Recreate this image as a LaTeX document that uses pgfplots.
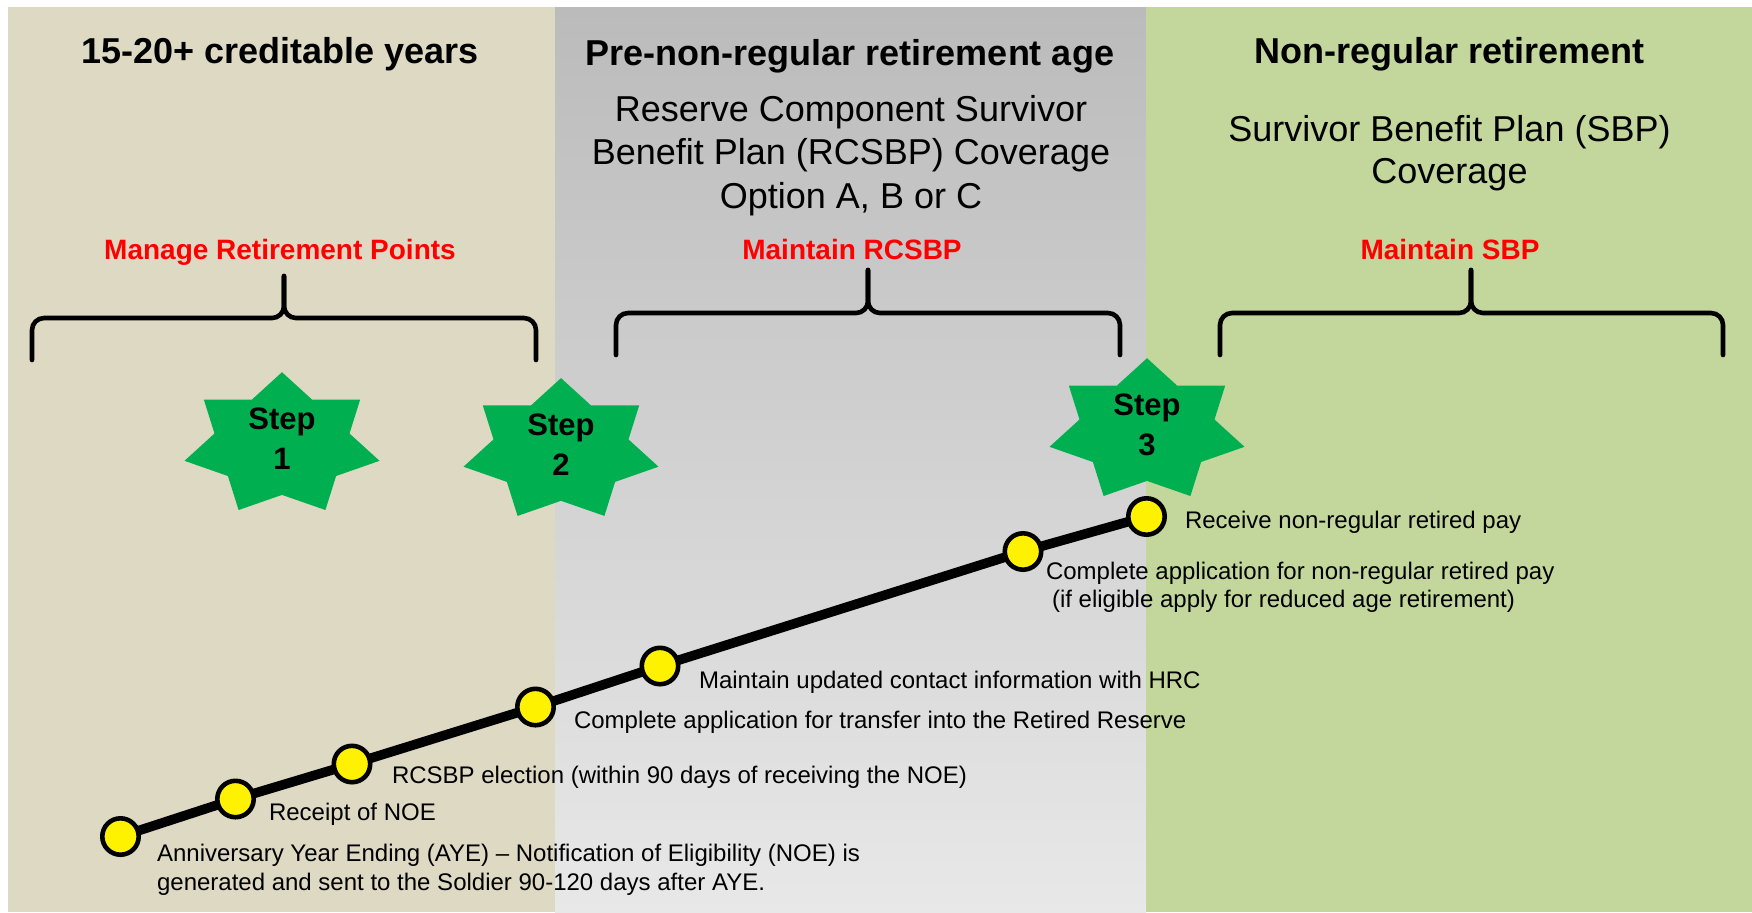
\documentclass[border=0pt]{standalone}
\usepackage{pgfplots}
\usepackage{pgfplotstable}
\pgfplotsset{compat=1.18}
\usepackage{fontspec}
\setmainfont{Liberation Sans}
\definecolor{beige}{HTML}{DDD9C3}
\definecolor{olivebg}{HTML}{C3D69B}
\definecolor{stargreen}{HTML}{00B050}
\definecolor{gtop}{HTML}{BBBBBB}
\definecolor{gbot}{HTML}{E8E8E8}
\newcommand\lbl{\fontsize{12pt}{14.4pt}\selectfont}
\newcommand\ttl{\fontsize{18pt}{21.6pt}\selectfont\bfseries}
\newcommand\sub{\fontsize{18pt}{21.6pt}\selectfont}
\newcommand\red{\fontsize{14pt}{16.8pt}\selectfont\bfseries\color{red}}
\newcommand\stf{\fontsize{15.5pt}{18pt}\selectfont\bfseries}

% 7-point star outline offsets (px), x right, y down
\pgfplotstableread{
dx dy
0 -72.5
-30.0 -45.2
-78.2 -45.2
-67.5 -11.2
-97.5 16.1
-54.1 31.3
-43.4 65.3
0 50.2
43.4 65.3
54.1 31.3
97.5 16.1
67.5 -11.2
78.2 -45.2
30.0 -45.2
}\staroff

% timeline milestones (px)
\pgfplotstableread{
x y
120.5 836.5
235.5 799
352 764
535.5 707
660 666
1023 551.5
1146.5 516.5
}\milestones

\begin{document}
\begin{tikzpicture}
\begin{axis}[
  width=876pt, height=456pt, scale only axis,
  xmin=0, xmax=1752, ymin=0, ymax=912,
  y dir=reverse, hide axis, clip=false,
  every node/.style={inner sep=0pt, outer sep=0pt},
]
\fill[white] (axis cs:0,0) rectangle (axis cs:1752,912);
\fill[beige] (axis cs:8,7) rectangle (axis cs:555,912);
\shade[top color=gtop, bottom color=gbot] (axis cs:555,7) rectangle (axis cs:1146,912);
\fill[olivebg] (axis cs:1146,7) rectangle (axis cs:1752,912);

% titles
\node[anchor=base, font=\ttl] at (axis cs:280,63) {15-20+ creditable years};
\node[anchor=base, font=\ttl] at (axis cs:850,65) {Pre-non-regular retirement age};
\node[anchor=base, font=\ttl] at (axis cs:1449.5,63) {Non-regular retirement};
\node[anchor=base, font=\sub] at (axis cs:851,121.7) {Reserve Component Survivor};
\node[anchor=base, font=\sub] at (axis cs:851,164) {Benefit Plan (RCSBP) Coverage};
\node[anchor=base, font=\sub] at (axis cs:851,208.3) {Option A, B or C};
\node[anchor=base, font=\sub] at (axis cs:1449.5,141.7) {Survivor Benefit Plan (SBP)};
\node[anchor=base, font=\sub] at (axis cs:1449.5,183.5) {Coverage};
\node[anchor=base, font=\red] at (axis cs:280,259) {Manage Retirement Points};
\node[anchor=base, font=\red] at (axis cs:852,259) {Maintain RCSBP};
\node[anchor=base, font=\red] at (axis cs:1450,259) {Maintain SBP};

% braces
\begin{scope}[line width=2.3pt, rounded corners=6pt, line cap=round]
\draw (axis cs:32,360) -- (axis cs:32,318) -- (axis cs:284,318) -- (axis cs:284,276);
\draw (axis cs:536,360) -- (axis cs:536,318) -- (axis cs:284,318) -- (axis cs:284,276);
\draw (axis cs:616,355) -- (axis cs:616,313) -- (axis cs:868,313) -- (axis cs:868,270);
\draw (axis cs:1120,355) -- (axis cs:1120,313) -- (axis cs:868,313) -- (axis cs:868,270);
\draw (axis cs:1220,355) -- (axis cs:1220,313) -- (axis cs:1471,313) -- (axis cs:1471,270);
\draw (axis cs:1723,355) -- (axis cs:1723,313) -- (axis cs:1471,313) -- (axis cs:1471,270);
\end{scope}

% stars
\addplot[fill=stargreen, draw=none, mark=none] table[x expr=\thisrow{dx}+282, y expr=\thisrow{dy}+444.7] {\staroff};
\addplot[fill=stargreen, draw=none, mark=none] table[x expr=\thisrow{dx}+561, y expr=\thisrow{dy}+450.6] {\staroff};
\addplot[fill=stargreen, draw=none, mark=none] table[x expr=\thisrow{dx}+1147, y expr=\thisrow{dy}+430.7] {\staroff};
\node[anchor=base, font=\stf] at (axis cs:282,429) {Step};
\node[anchor=base, font=\stf] at (axis cs:282,469) {1};
\node[anchor=base, font=\stf] at (axis cs:561,435) {Step};
\node[anchor=base, font=\stf] at (axis cs:561,475) {2};
\node[anchor=base, font=\stf] at (axis cs:1147,415) {Step};
\node[anchor=base, font=\stf] at (axis cs:1147,455) {3};

% timeline
\addplot[black, line width=4.8pt, mark=*, mark size=9.1pt,
  mark options={fill=yellow, draw=black, line width=2.3pt}] table[x=x, y=y] {\milestones};

% labels
\node[anchor=base west, font=\lbl] at (axis cs:150,861.7) {Anniversary Year Ending (AYE) – Notification of Eligibility (NOE) is};
\node[anchor=base west, font=\lbl] at (axis cs:150,890) {generated and sent to the Soldier 90-120 days after AYE.};
\node[anchor=base west, font=\lbl] at (axis cs:262,820) {Receipt of NOE};
\node[anchor=base west, font=\lbl] at (axis cs:385,783.3) {RCSBP election (within 90 days of receiving the NOE)};
\node[anchor=base west, font=\lbl] at (axis cs:567,728.3) {Complete application for transfer into the Retired Reserve};
\node[anchor=base west, font=\lbl] at (axis cs:692,688.3) {Maintain updated contact information with HRC};
\node[anchor=base west, font=\lbl] at (axis cs:1039,579.3) {Complete application for non-regular retired pay};
\node[anchor=base west, font=\lbl] at (axis cs:1045,607) {(if eligible apply for reduced age retirement)};
\node[anchor=base west, font=\lbl] at (axis cs:1178,528.3) {Receive non-regular retired pay};
\end{axis}
\end{tikzpicture}
\end{document}
